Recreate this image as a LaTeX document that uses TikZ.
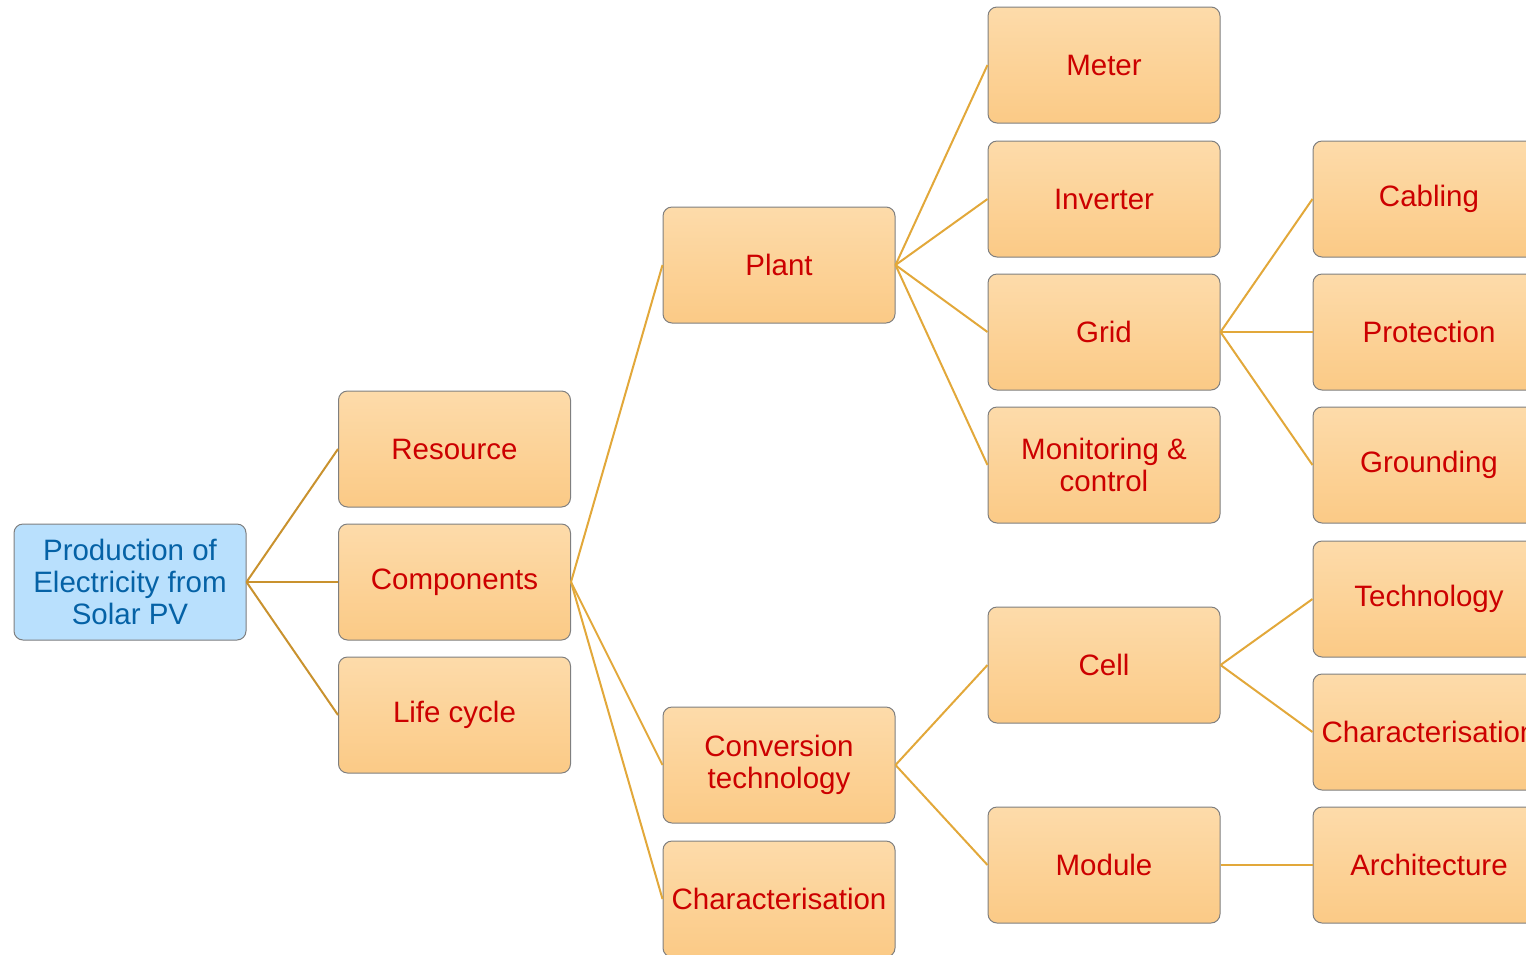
\documentclass[tikz,border=0pt]{standalone}
\usepackage{fontspec}
\setmainfont{Liberation Sans}
\definecolor{boxtop}{HTML}{FDDBAA}
\definecolor{boxbot}{HTML}{FBCA86}
\definecolor{boxline}{HTML}{7F7F7F}
\definecolor{txtred}{HTML}{CC0000}
\definecolor{rootfill}{HTML}{B9E0FD}
\definecolor{roottxt}{HTML}{0562A6}
\definecolor{edgeA}{HTML}{C9922E}
\definecolor{edgeB}{HTML}{E2A83A}
\tikzset{
  box/.style={draw=boxline, line width=1pt, rounded corners=9pt, top color=boxtop, bottom color=boxbot,
    minimum width=232pt, minimum height=116pt, inner sep=0pt, text=txtred, align=center,
    font=\fontsize{29.5}{32}\selectfont},
  rootbox/.style={box, top color=rootfill, bottom color=rootfill, fill=rootfill, text=roottxt},
  linkA/.style={draw=edgeA, line width=2pt},
  linkB/.style={draw=edgeB, line width=2pt},
}
\begin{document}
\begin{tikzpicture}[x=1pt,y=-1pt]
\useasboundingbox (0,0) rectangle (1526,954);
\clip (0,0) rectangle (1526,954);
% column 1
\node[rootbox] (root) at (130,582) {Production of\\Electricity from\\Solar PV};
% column 2
\node[box] (res) at (454.5,449) {Resource};
\node[box] (comp) at (454.5,582) {Components};
\node[box] (life) at (454.5,715) {Life cycle};
% column 3
\node[box] (plant) at (779,265) {Plant};
\node[box] (conv) at (779,765) {Conversion\\technology};
\node[box] (char1) at (779,899) {Characterisation};
% column 4
\node[box] (meter) at (1104,65) {Meter};
\node[box] (inv) at (1104,199) {Inverter};
\node[box] (grid) at (1104,332) {Grid};
\node[box] (mon) at (1104,465) {Monitoring \&\\control};
\node[box] (cell) at (1104,665) {Cell};
\node[box] (mod) at (1104,865) {Module};
% column 5
\node[box] (cab) at (1429,199) {Cabling};
\node[box] (prot) at (1429,332) {Protection};
\node[box] (grd) at (1429,465) {Grounding};
\node[box] (tech) at (1429,599) {Technology};
\node[box] (char2) at (1429,732) {Characterisation};
\node[box] (arch) at (1429,865) {Architecture};
% connectors
\draw[linkA] (root.east) -- (res.west);
\draw[linkA] (root.east) -- (comp.west);
\draw[linkA] (root.east) -- (life.west);
\draw[linkB] (comp.east) -- (plant.west);
\draw[linkB] (comp.east) -- (conv.west);
\draw[linkB] (comp.east) -- (char1.west);
\draw[linkB] (plant.east) -- (meter.west);
\draw[linkB] (plant.east) -- (inv.west);
\draw[linkB] (plant.east) -- (grid.west);
\draw[linkB] (plant.east) -- (mon.west);
\draw[linkB] (grid.east) -- (cab.west);
\draw[linkB] (grid.east) -- (prot.west);
\draw[linkB] (grid.east) -- (grd.west);
\draw[linkB] (conv.east) -- (cell.west);
\draw[linkB] (conv.east) -- (mod.west);
\draw[linkB] (cell.east) -- (tech.west);
\draw[linkB] (cell.east) -- (char2.west);
\draw[linkB] (mod.east) -- (arch.west);
\end{tikzpicture}
\end{document}
